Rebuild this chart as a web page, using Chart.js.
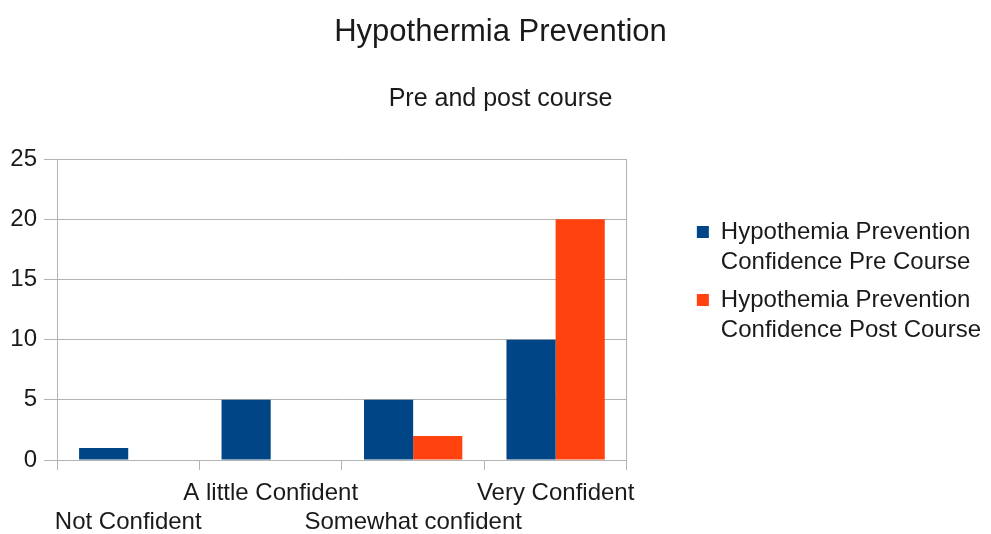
<!DOCTYPE html>
<html>
<head>
<meta charset="utf-8">
<script src="https://cdn.jsdelivr.net/npm/chart.js@4/dist/chart.umd.min.js"></script>
<style>
  html, body { margin: 0; padding: 0; background: #fff; }
  #wrap { width: 991px; height: 534px; }
</style>
</head>
<body>
<div id="wrap"><canvas id="grafico"></canvas></div>
<script>
// Datos del gráfico
const categorias = ['Not Confident', 'A little Confident', 'Somewhat confident', 'Very Confident'];
const preCurso = [1, 5, 5, 10];
const postCurso = [0, 0, 2, 20];
const leyendaPre = ['Hypothemia Prevention', 'Confidence Pre Course'];
const leyendaPost = ['Hypothemia Prevention', 'Confidence Post Course'];
const ticksY = [0, 5, 10, 15, 20, 25];

const gris = '#b3b3b3';
const texto = '#1a1a1a';
const fuente = '"Liberation Sans", Arial, sans-serif';

const canvas = document.getElementById('grafico');

new Chart(canvas, {
  type: 'bar',
  data: {
    labels: categorias,
    datasets: [
      {
        label: leyendaPre.join(' '),
        data: preCurso,
        backgroundColor: '#004586',
        borderWidth: 0,
        categoryPercentage: 0.69,
        barPercentage: 1.0
      },
      {
        label: leyendaPost.join(' '),
        data: postCurso,
        backgroundColor: '#ff420e',
        borderWidth: 0,
        categoryPercentage: 0.69,
        barPercentage: 1.0
      }
    ]
  },
  options: {
    responsive: true,
    maintainAspectRatio: false,
    animation: false,
    layout: { padding: { left: 10, right: 0, top: 0, bottom: 0 } },
    plugins: {
      title: {
        display: true,
        text: 'Hypothermia Prevention',
        color: texto,
        font: { family: fuente, size: 31, weight: 'normal' },
        padding: { top: 14, bottom: 23 }
      },
      subtitle: {
        display: true,
        text: 'Pre and post course',
        color: texto,
        font: { family: fuente, size: 25, weight: 'normal' },
        padding: { top: 10, bottom: 45 }
      },
      legend: {
        position: 'right',
        align: 'start',
        maxWidth: 320,
        // título vacío solo para bajar la leyenda
        title: {
          display: true,
          text: '',
          font: { size: 10 },
          padding: { top: 200, bottom: 0 }
        },
        labels: {
          color: texto,
          font: { family: fuente, size: 24, lineHeight: 1.25 },
          boxWidth: 12,
          boxHeight: 12,
          padding: 8,
          generateLabels: (chart) => {
            const items = Chart.defaults.plugins.legend.labels.generateLabels(chart);
            const lineas = [leyendaPre, leyendaPost];
            items.forEach((it, i) => { it.text = lineas[i]; it.lineWidth = 0; });
            return items;
          }
        }
      },
      tooltip: { enabled: false }
    },
    scales: {
      x: {
        offset: true,
        grid: {
          offset: true,
          drawOnChartArea: false,
          drawTicks: true,
          tickLength: 10,
          color: gris
        },
        border: { display: true, color: gris },
        ticks: {
          color: texto,
          font: { family: fuente, size: 24, lineHeight: 1.2 },
          padding: 9,
          autoSkip: false,
          maxRotation: 0,
          minRotation: 0,
          // Etiquetas escalonadas en dos filas
          callback: function (value, index) {
            const etiqueta = categorias[index];
            return index % 2 === 0 ? ['', etiqueta] : [etiqueta, ''];
          }
        },
        afterFit: (scale) => { scale.height = 74; }
      },
      y: {
        min: 0,
        max: 25,
        grid: {
          color: gris,
          drawTicks: true,
          tickLength: 13
        },
        border: { display: true, color: gris },
        ticks: {
          stepSize: 5,
          color: texto,
          padding: 7,
          font: { family: fuente, size: 24 },
          callback: (v) => (ticksY.includes(v) ? v : '')
        },
        afterFit: (scale) => { scale.width = 47; }
      },
      y2: {
        position: 'right',
        display: true,
        grid: { display: false, drawTicks: false },
        border: { display: true, color: gris },
        ticks: { display: false },
        afterFit: (scale) => { scale.width = 62; }
      }
    }
  }
});
</script>
</body>
</html>
